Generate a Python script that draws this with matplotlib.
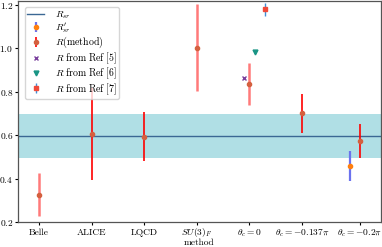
import matplotlib
matplotlib.use("Agg")
import matplotlib.pyplot as plt

plt.rcParams['font.family'] = 'serif'
plt.rcParams['font.serif'] = ['cmr10', 'DejaVu Serif']
plt.rcParams['mathtext.fontset'] = 'cm'
plt.rcParams['axes.formatter.use_mathtext'] = True

# data
tick_pos = [0, 1, 2, 3, 4, 5, 6.1]
tick_labels = ["Belle", "ALICE", "LQCD", r"$SU(3)_F$", r"$\theta_c=0$",
               r"$\theta_c=-0.137\pi$", r"$\theta_c=-0.2\pi$"]

r_sr = 0.597
r_sr_err = 0.101

# R(method): strong (red) and faint (light red)
method_x_strong = [1, 2, 5, 6.1]
method_y_strong = [0.605, 0.594, 0.701, 0.574]
method_e_strong = [0.212, 0.113, 0.089, 0.078]

method_x_light = [0, 3, 4]
method_y_light = [0.326, 1.003, 0.838]
method_e_light = [0.098, 0.200, 0.097]

rp_x = [5.91]
rp_y = [0.458]
rp_e = [0.069]

ref5_x = [3.9]
ref5_y = [0.864]
ref6_x = [4.1]
ref6_y = [0.985]
ref7_x = [4.3]
ref7_y = [1.182]
ref7_e = [0.030]

FS = 6.8
LFS = 7.1

fig = plt.figure(figsize=(3.82, 2.47), dpi=100)
ax = fig.add_axes([18/382, 1 - 222/247, (381-18)/382, 221/247])

ax.axhspan(r_sr - r_sr_err, r_sr + r_sr_err, color='#b0dfe5', lw=0, zorder=0)
h_sr = ax.axhline(r_sr, color='#3b6894', lw=1.0, label=r'$R_{sr}$', zorder=1)

mcol = '#d4603f'
h_rp = ax.errorbar(rp_x, rp_y, yerr=rp_e, fmt='o', ms=3, color='#ff7f0e',
                   ecolor='#6b72ee', elinewidth=1.6, label=r"$R^{\prime}_{sr}$", zorder=3)
h_m = ax.errorbar(method_x_strong, method_y_strong, yerr=method_e_strong, fmt='o', ms=3,
                  color=mcol, ecolor='red', elinewidth=1.2,
                  label=r'$R\mathrm{(method)}$', zorder=3)
ax.errorbar(method_x_light, method_y_light, yerr=method_e_light, fmt='o', ms=3,
            color=mcol, ecolor='#ff7a7a', elinewidth=1.8, zorder=3)
h5, = ax.plot(ref5_x, ref5_y, 'x', ms=3, mew=1.0, color='#7a3f9d', ls='none',
              label=r'$R\ \mathrm{from\ Ref\ [5]}$')
h6, = ax.plot(ref6_x, ref6_y, 'v', ms=3.5, color='#1a9585', ls='none',
              label=r'$R\ \mathrm{from\ Ref\ [6]}$')
h7 = ax.errorbar(ref7_x, ref7_y, yerr=ref7_e, fmt='s', ms=3.5, color='#f04a3a',
                 ecolor='#3f8fd8', elinewidth=1.0,
                 label=r'$R\ \mathrm{from\ Ref\ [7]}$', zorder=3)

ax.set_xlim(-0.4, 6.5)
ax.set_ylim(0.2, 1.219)
ax.set_xticks(tick_pos)
ax.set_xticklabels(tick_labels, fontsize=FS, va='baseline')
ax.set_yticks([0.2, 0.4, 0.6, 0.8, 1.0, 1.2])
ax.tick_params(axis='y', labelsize=FS, length=2.5, pad=1.0)
ax.tick_params(axis='x', length=2.5, pad=6.8)
ax.set_xlabel('method', fontsize=FS, va='bottom')
ax.xaxis.set_label_coords(0.5, -0.112)
for s in ax.spines.values():
    s.set_color('#555555')
    s.set_linewidth(0.9)

handles = [h_sr, h_rp, h_m, h5, h6, h7]
leg = ax.legend(handles=handles, labels=[h.get_label() for h in handles],
                loc='upper left', fontsize=LFS, frameon=True, handlelength=1.7,
                borderpad=0.25, labelspacing=0.0, handletextpad=1.1,
                bbox_to_anchor=(0.005, 0.995))
leg.get_frame().set_edgecolor('#cccccc')

fig.savefig('out.png', dpi=100)
